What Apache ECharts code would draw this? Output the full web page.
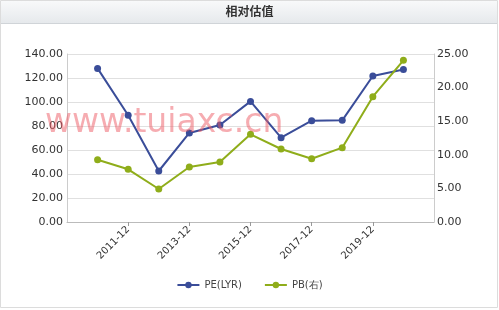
<!DOCTYPE html>
<html><head><meta charset="utf-8">
<script src="https://cdn.jsdelivr.net/npm/echarts@6/dist/echarts.min.js"></script>
<style>html,body{margin:0;padding:0;background:#fff}#c{width:499px;height:310px}</style>
</head><body><div id="c"></div>
<script>
const categories = ['2009-12','2010-12','2011-12','2012-12','2013-12','2014-12','2015-12','2016-12','2017-12','2018-12','2019-12','2020-12','2021-12'];
const shownLabels = ['2011-12','2013-12','2015-12','2017-12','2019-12'];
const peValues = [null,128.0,88.9,42.5,74.2,80.8,100.5,70.3,84.4,84.7,121.7,127.0,null];
const pbValues = [null,9.27,7.84,4.91,8.18,8.93,13.05,10.86,9.42,11.06,18.65,24.06,null];
const leftTicks = {min:0,max:140,interval:20};
const rightTicks = {min:0,max:25,interval:5};

const chart = echarts.init(document.getElementById('c'));
const showIdx = (i) => shownLabels.indexOf(categories[i]) >= 0;
chart.setOption({
  animation:false,
  graphic:[
    {type:'rect',shape:{x:0.5,y:0.5,width:497,height:307},style:{fill:'#fff',stroke:'#dcdcdc',lineWidth:1},z:-10},
    {type:'rect',shape:{x:1,y:1,width:496,height:22},style:{fill:new echarts.graphic.LinearGradient(0,0,0,1,[{offset:0,color:'#f8f9fa'},{offset:1,color:'#e6e9ec'}]),stroke:null},z:-9},
    {type:'line',shape:{x1:1,y1:23.5,x2:497,y2:23.5},style:{stroke:'#d0d4d8',lineWidth:1},z:-8},
    {type:'text',left:'center',top:5,style:{text:'相对估值',font:'bold 12px "Noto Sans CJK SC", sans-serif',fill:'#333'}},
    {type:'text',left:45,top:107,z:100,style:{text:'www.tuiaxc.cn',font:'33px "DejaVu Sans", sans-serif',fill:'rgba(238,90,100,0.5)'}}
  ],
  grid:{left:67,right:65,top:54,bottom:88},
  legend:{bottom:15,left:'center',itemWidth:22,itemHeight:8,itemGap:22,
    textStyle:{fontSize:10,color:'#444',fontFamily:'"DejaVu Sans", sans-serif'},
    data:['PE(LYR)','PB(右)']},
  xAxis:{type:'category',data:categories,boundaryGap:false,
    axisLine:{lineStyle:{color:'#bbb'}},
    axisTick:{interval:(i)=>showIdx(i),length:4,lineStyle:{color:'#999'}},
    axisLabel:{interval:(i)=>showIdx(i),rotate:45,fontSize:10,color:'#333',margin:6,fontFamily:'"DejaVu Sans", sans-serif'},
    splitLine:{show:false}},
  yAxis:[
    {type:'value',min:leftTicks.min,max:leftTicks.max,interval:leftTicks.interval,position:'left',
     axisLine:{show:true,lineStyle:{color:'#ccc'}},axisTick:{show:false},
     axisLabel:{formatter:(v)=>v.toFixed(2),fontSize:11,color:'#333',margin:4,fontFamily:'"DejaVu Sans", sans-serif'},
     splitLine:{lineStyle:{color:'#e0e0e0'}}},
    {type:'value',min:rightTicks.min,max:rightTicks.max,interval:rightTicks.interval,position:'right',
     axisLine:{show:true,lineStyle:{color:'#ccc'}},axisTick:{show:false},
     axisLabel:{formatter:(v)=>v.toFixed(2),fontSize:11,color:'#333',margin:3,fontFamily:'"DejaVu Sans", sans-serif'},
     splitLine:{show:false}}
  ],
  series:[
    {name:'PE(LYR)',type:'line',yAxisIndex:0,data:peValues,symbol:'circle',symbolSize:7,
     itemStyle:{color:'#3a4d99'},lineStyle:{width:2,color:'#3a4d99'}},
    {name:'PB(右)',type:'line',yAxisIndex:1,data:pbValues,symbol:'circle',symbolSize:7,
     itemStyle:{color:'#8fad1a'},lineStyle:{width:2,color:'#8fad1a'}}
  ]
});
</script></body></html>
